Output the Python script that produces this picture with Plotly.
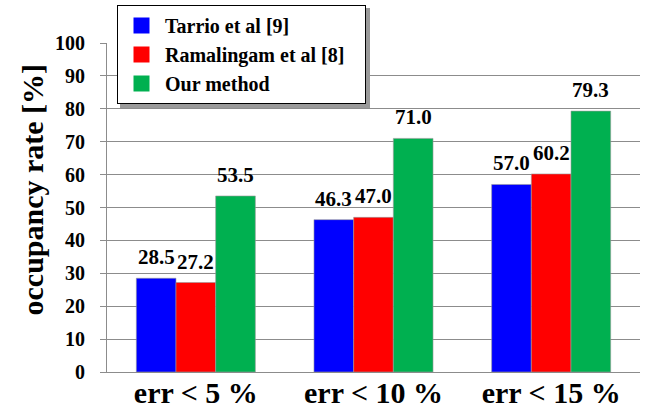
import plotly.graph_objects as go

# Error thresholds on the x axis
categories = ["err < 5 %", "err < 10 %", "err < 15 %"]

# Occupancy rate [%] for each method
series_names = ["Tarrio et al [9]", "Ramalingam et al [8]", "Our method"]
tarrio = [28.5, 46.3, 57.0]
ramalingam = [27.2, 47.0, 60.2]
ours = [53.5, 71.0, 79.3]
series_values = [tarrio, ramalingam, ours]
series_colors = ["#0000FF", "#FF0000", "#00B050"]

y_ticks = [0, 10, 20, 30, 40, 50, 60, 70, 80, 90, 100]
y_title = "occupancy rate [%]"

FONT = "Times New Roman, Liberation Serif, DejaVu Serif, serif"
BARGAP = 0.33
n_series = len(series_values)
bar_w = (1 - BARGAP) / n_series
xpos = list(range(len(categories)))

# plot area in pixels
L, R, T, B = 107, 16, 43, 36
W, H = 656, 408
PW, PH = W - L - R, H - T - B

fig = go.Figure()

for name, vals, col in zip(series_names, series_values, series_colors):
    fig.add_trace(go.Bar(
        x=xpos, y=vals, name=name,
        marker=dict(color=col, line=dict(color="#9a9a9a", width=0.6)),
        showlegend=False,
    ))

# Legend entries with large square swatches
for k, (name, col) in enumerate(zip(series_names, series_colors)):
    label = f"<b>{name}</b>" + ("&nbsp;&nbsp;&nbsp;" if k == 1 else "")
    fig.add_trace(go.Scatter(
        x=[None], y=[None], mode="markers", name=label,
        marker=dict(symbol="square", size=20, color=col),
        legendgroup=name,
    ))

# Value labels above each bar
for j, vals in enumerate(series_values):
    off = (j - (n_series - 1) / 2) * bar_w
    for i, v in enumerate(vals):
        fig.add_annotation(
            x=i + off, y=v, text=f"<b>{v:.1f}</b>", showarrow=False,
            yanchor="bottom", yshift=7,
            font=dict(family=FONT, size=21, color="black"),
        )

# Rotated y-axis title
fig.add_annotation(
    xref="paper", yref="paper",
    x=(31.5 - L) / PW, y=(H - B - 190) / PH,
    text=f"<b>{y_title}</b>", textangle=-90, showarrow=False,
    xanchor="center", yanchor="middle",
    font=dict(family=FONT, size=30, color="black"),
)

# Legend drop shadow
fig.add_shape(type="rect", xref="paper", yref="paper",
              x0=(120 - L) / PW, x1=(370 - L) / PW,
              y0=(H - B - 108) / PH, y1=(H - B - 8) / PH,
              fillcolor="#9a9a9a", line=dict(width=0), layer="above")

fig.update_layout(
    width=W, height=H,
    margin=dict(l=L, r=R, t=T, b=B, autoexpand=False),
    barmode="group", bargap=BARGAP, bargroupgap=0,
    plot_bgcolor="white", paper_bgcolor="white",
    font=dict(family=FONT, color="black"),
    legend=dict(
        xref="container", yref="container",
        x=117 / W, y=1 - 5 / H,
        xanchor="left", yanchor="top",
        bgcolor="white", bordercolor="black", borderwidth=1,
        font=dict(family=FONT, size=20, color="black"),
        tracegroupgap=0, itemwidth=37,
    ),
    xaxis=dict(
        range=[-0.5, len(categories) - 0.5],
        tickvals=xpos, ticktext=[f"<b>{c}</b>" for c in categories],
        tickfont=dict(family=FONT, size=30, color="black"),
        showline=True, linecolor="#8c8c8c", linewidth=1,
        showgrid=False, ticks="", zeroline=False, automargin=False,
        ticklabelstandoff=-6,
    ),
    yaxis=dict(
        range=[0, 100], tickvals=y_ticks,
        ticktext=[f"<b>{t}</b>" for t in y_ticks],
        tickfont=dict(family=FONT, size=20, color="black"),
        showline=True, linecolor="#8c8c8c", linewidth=1,
        showgrid=True, gridcolor="#8c8c8c", gridwidth=1,
        ticks="outside", ticklen=6, tickcolor="#8c8c8c",
        zeroline=False, automargin=False, ticklabelstandoff=11,
    ),
)

fig.write_html("out.html")
